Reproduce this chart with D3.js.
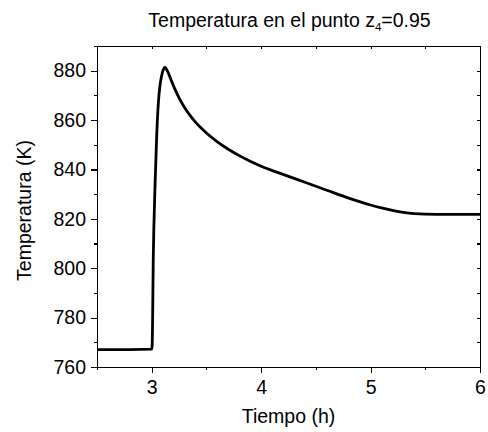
<!DOCTYPE html>
<meta charset="utf-8">
<style>
body { margin: 0; background: #fff; }
svg { font-family: "Liberation Sans", Arial, sans-serif; }
.axis path, .axis line { stroke: #000; stroke-width: 1.1; shape-rendering: crispEdges; }
.axis text { font-size: 19.5px; fill: #000; }
</style>
<svg width="488" height="432"></svg>
<script src="https://cdn.jsdelivr.net/npm/d3@7"></script>
<script>
// datos
var tiempo = [2.5, 2.8, 3.0, 3.004, 3.015, 3.03, 3.045, 3.06, 3.075, 3.09, 3.105, 3.12, 3.135,
  3.15, 3.17, 3.2, 3.25, 3.3, 3.35, 3.4, 3.5, 3.6, 3.7, 3.8, 3.9, 4.0, 4.2, 4.4, 4.6, 4.8,
  5.0, 5.1, 5.2, 5.3, 5.4, 5.5, 5.7, 6.0];
var temperatura = [767, 767, 767.2, 768.5, 806, 833, 853, 866.5, 873.8, 877.8, 880.3, 881.3, 880.6,
  879.25, 877.05, 873.75, 869.0, 865.1, 861.9, 859.2, 854.8, 851.2, 848.2, 845.6, 843.3, 841.3, 838.0, 834.8, 831.6, 828.4,
  825.6, 824.4, 823.4, 822.6, 822.1, 821.9, 821.8, 821.8];
var xTicks = [3, 4, 5, 6];
var yTicks = [760, 780, 800, 820, 840, 860, 880];

var svg = d3.select("svg"),
    margin = {top: 46, right: 8, bottom: 65, left: 97},
    width = +svg.attr("width") - margin.left - margin.right,
    height = +svg.attr("height") - margin.top - margin.bottom;

var x = d3.scaleLinear().domain([2.5, 6]).range([0, width]);
var y = d3.scaleLinear().domain([760, 890]).range([height, 0]);

var g = svg.append("g").attr("transform", "translate(" + margin.left + "," + margin.top + ")");

// ticks menores
var xMinor = d3.range(2.5, 6.01, 0.5);
var yMinor = d3.range(760, 890.1, 10);

g.append("g").attr("class", "axis")
    .attr("transform", "translate(0," + height + ")")
    .call(d3.axisBottom(x).tickValues(xMinor).tickSize(3).tickFormat(""));
g.append("g").attr("class", "axis")
    .attr("transform", "translate(0," + height + ")")
    .call(d3.axisBottom(x).tickValues(xTicks).tickSize(6).tickPadding(7).tickFormat(d3.format("d")))
    .call(s => s.select(".domain").remove());

g.append("g").attr("class", "axis")
    .call(d3.axisLeft(y).tickValues(yMinor).tickSize(3).tickFormat(""));
g.append("g").attr("class", "axis")
    .call(d3.axisLeft(y).tickValues(yTicks).tickSize(6).tickPadding(5).tickFormat(d3.format("d")))
    .call(s => s.select(".domain").remove());

// ejes espejo (arriba y derecha) con ticks hacia dentro
g.append("g").attr("class", "axis")
    .call(d3.axisTop(x).tickValues(xMinor).tickSize(-3).tickFormat(""));
g.append("g").attr("class", "axis")
    .attr("transform", "translate(" + width + ",0)")
    .call(d3.axisRight(y).tickValues(yMinor).tickSize(-3).tickFormat(""));

// la curva
var line = d3.line()
    .x((d, i) => x(tiempo[i]))
    .y(d => y(d))
    .curve(d3.curveMonotoneX);

g.append("path")
    .datum(temperatura)
    .attr("fill", "none")
    .attr("stroke", "#000")
    .attr("stroke-width", 2.8)
    .attr("stroke-linejoin", "round")
    .attr("d", line);

// titulos
var titulo = svg.append("text")
    .attr("x", margin.left + width / 2 + 1)
    .attr("y", 27)
    .attr("text-anchor", "middle")
    .style("font-size", "19.5px");
titulo.append("tspan").text("Temperatura en el punto z");
titulo.append("tspan").attr("dy", 4).style("font-size", "11.5px").text("4");
titulo.append("tspan").attr("dy", -4).text("=0.95");

svg.append("text")
    .attr("x", margin.left + width / 2)
    .attr("y", 423)
    .attr("text-anchor", "middle")
    .style("font-size", "19.5px")
    .text("Tiempo (h)");

svg.append("text")
    .attr("transform", "translate(31," + (margin.top + height / 2 + 4) + ") rotate(-90)")
    .attr("text-anchor", "middle")
    .style("font-size", "19.5px")
    .text("Temperatura (K)");
</script>
